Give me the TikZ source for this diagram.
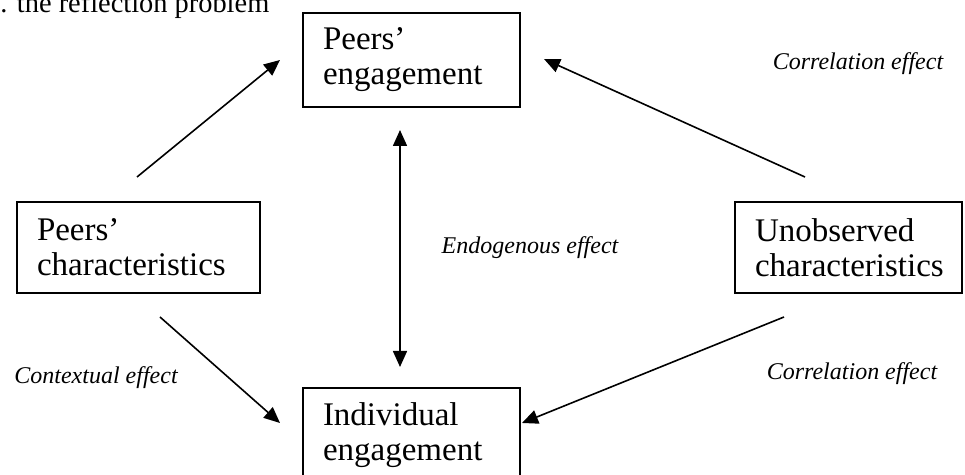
\documentclass[tikz,border=0pt]{standalone}
\usepackage{fontspec}
\setmainfont{Liberation Serif}
\usetikzlibrary{arrows.meta}
\begin{document}
\begin{tikzpicture}[x=0.5pt,y=-0.5pt,
    factor/.style={rectangle, draw, line width=0.8pt, align=left, inner xsep=10pt, inner ysep=0pt, font=\fontsize{16.5}{17.5}\selectfont},
    effect/.style={font=\fontsize{12}{14}\selectfont\itshape},
    link/.style={line width=0.8pt, -{Triangle[length=8pt,width=7pt]}},
    both/.style={line width=0.8pt, {Triangle[length=8pt,width=7pt]}-{Triangle[length=8pt,width=7pt]}}]
    \useasboundingbox (0,0) rectangle (965,475);
    \node(title) [anchor=base west, inner sep=0pt, font=\fontsize{14.2}{17}\selectfont] at (0,13) {. the reflection problem};
    % the four boxes
    \node(peng) [factor, text width=88.5pt, minimum height=47pt] at (411.5,60) {Peers’\\engagement};
    \node(pchar) [factor, text width=101.5pt, minimum height=45.5pt] at (138.5,247.5) {Peers’\\characteristics};
    \node(unobs) [factor, text width=93.5pt, minimum height=45.5pt] at (848.5,247.5) {Unobserved\\characteristics};
    \node(ieng) [factor, text width=88.5pt, minimum height=47pt] at (411.5,435) {Individual\\engagement};
    % arrow ends
    \coordinate (pchar-up) at (137,177);
    \coordinate (peng-in1) at (280,60);
    \coordinate (pchar-down) at (160,317);
    \coordinate (ieng-in1) at (280,423);
    \coordinate (unobs-up) at (805,177);
    \coordinate (peng-in2) at (544,59);
    \coordinate (unobs-down) at (784,317);
    \coordinate (ieng-in2) at (522,423);
    \coordinate (peng-low) at (400,130);
    \coordinate (ieng-high) at (400,367);
    \draw[link] (pchar-up) -- (peng-in1);
    \draw[link] (pchar-down) -- (ieng-in1);
    \draw[link] (unobs-up) -- (peng-in2);
    \draw[link] (unobs-down) -- (ieng-in2);
    \draw[both] (peng-low) -- (ieng-high);
    % labels
    \node(corr1) [effect] at (858,64) {Correlation effect};
    \node(endo) [effect] at (530,248) {Endogenous effect};
    \node(ctx) [effect] at (96,378) {Contextual effect};
    \node(corr2) [effect] at (852,374) {Correlation effect};
\end{tikzpicture}
\end{document}
